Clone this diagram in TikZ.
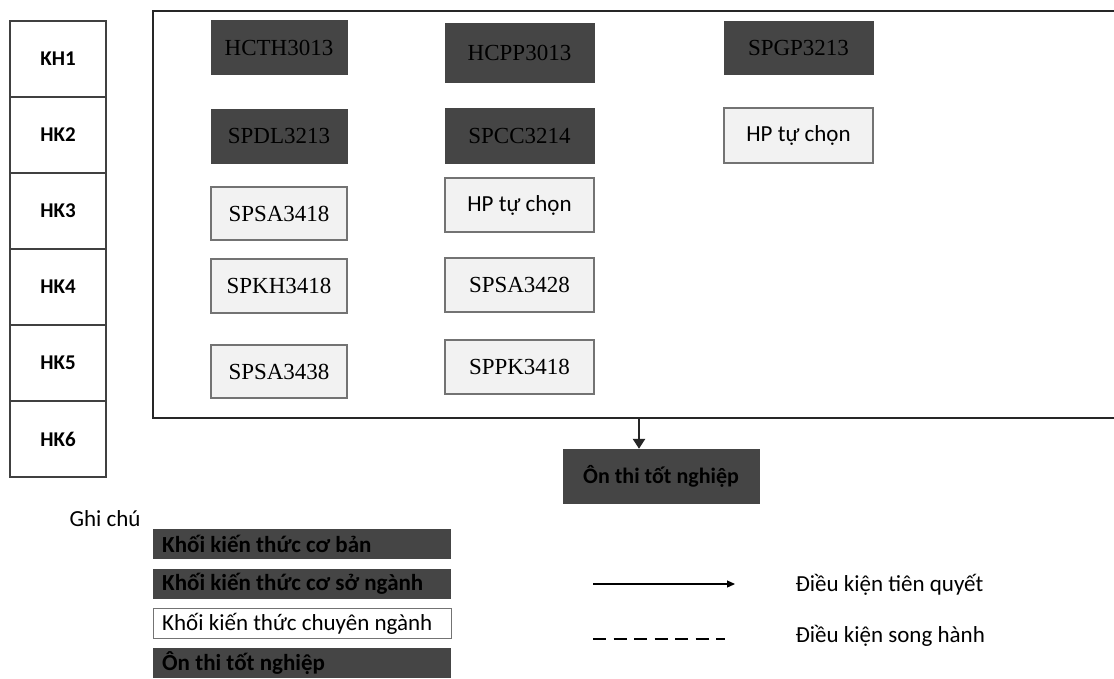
\documentclass[tikz,border=0pt]{standalone}
\usepackage{fontspec}
\setmainfont{Liberation Serif}
\newfontfamily\calfont{Carlito}
\usetikzlibrary{arrows.meta,positioning}

\definecolor{darkfill}{gray}{0.27}
\definecolor{lightfill}{gray}{0.95}
\definecolor{edgegray}{gray}{0.45}

\begin{document}
\begin{tikzpicture}[x=1pt,y=-1pt,node distance=76pt,
  semcell/.style={draw=black!75,line width=1.3pt,minimum width=96pt,minimum height=76pt,
                  font=\calfont\bfseries\fontsize{21}{25}\selectfont},
  course/.style={minimum width=136pt,minimum height=54pt,inner sep=0pt,
                 font=\fontsize{23}{27}\selectfont},
  basic/.style={course,fill=darkfill,draw=darkfill,text=black},
  major/.style={course,fill=lightfill,draw=edgegray,line width=1.2pt},
  wide/.style={minimum width=149pt},
  keybox/.style={minimum height=30pt,text width=280pt,align=flush left,inner xsep=9pt,inner ysep=0pt,
                 font=\calfont\fontsize{23}{27}\selectfont},
  darkkey/.style={keybox,fill=darkfill,font=\calfont\bfseries\fontsize{23}{27}\selectfont,text=black},
  legtext/.style={anchor=west,font=\calfont\fontsize{23}{27}\selectfont}]

\useasboundingbox (0,0) rectangle (1114,678);

% semesters
\node[semcell] (kh1) at (58,59) {KH1};
\node[semcell] (hk2) [below of=kh1] {HK2};
\node[semcell] (hk3) [below of=hk2] {HK3};
\node[semcell] (hk4) [below of=hk3] {HK4};
\node[semcell] (hk5) [below of=hk4] {HK5};
\node[semcell] (hk6) [below of=hk5] {HK6};

% frame
\node[draw=black!85,line width=2.5pt,minimum width=972pt,minimum height=407pt,inner sep=0pt]
  (frame) at (639,214.5) {};

% courses
\node[basic] (hcth) at (279,47.5) {HCTH3013};
\node[basic] (spdl) at (279,136) {SPDL3213};
\node[major,minimum height=53pt] (spsa1) at (279,213.5) {SPSA3418};
\node[major] (spkh) at (279,286) {SPKH3418};
\node[major,minimum height=53pt] (spsa3) at (279,371.5) {SPSA3438};

\node[basic,wide,minimum height=59pt] (hcpp) at (519.5,52.5) {HCPP3013};
\node[basic,wide,minimum height=55pt] (spcc) at (519.5,135.5) {SPCC3214};
\node[major,wide,font=\calfont\fontsize{23}{27}\selectfont] (tc2) at (519.5,205) {HP tự chọn};
\node[major,wide] (spsa2) at (519.5,285) {SPSA3428};
\node[major,wide] (sppk) at (519.5,367) {SPPK3418};

\node[basic,wide,minimum height=53pt] (spgp) at (798.5,47.5) {SPGP3213};
\node[major,wide,minimum height=55pt,font=\calfont\fontsize{23}{27}\selectfont] (tc3) at (798.5,135.5) {HP tự chọn};

% exam
\node[basic,minimum width=196pt,font=\calfont\bfseries\fontsize{22}{26}\selectfont] (exam) at (661,476) {Ôn thi tốt nghiệp};
\draw[-{Triangle[length=10pt,width=12pt]},line width=2.5pt,black!85]
  (frame.south) -- (frame.south |- exam.north);

% legend
\node[legtext] (note) at (66,519) {Ghi chú};
\node[darkkey,anchor=north west] (keybasic) at (153,529) {Khối kiến thức cơ bản};
\node[darkkey] (keycore) [below=9pt of keybasic] {Khối kiến thức cơ sở ngành};
\node[keybox,fill=white,draw=edgegray,line width=1.2pt] (keymajor) [below=9pt of keycore] {Khối kiến thức chuyên ngành};
\node[darkkey] (keyexam) [below=9pt of keymajor] {Ôn thi tốt nghiệp};

\coordinate (preA) at (593,584);
\coordinate (preB) at (735,584);
\coordinate (parA) at (593,639);
\coordinate (parB) at (725,639);
\draw[-{Triangle[length=8pt,width=7pt]},line width=1.2pt] (preA) -- (preB);
\draw[line width=2pt,dash pattern=on 13pt off 7.5pt] (parA) -- (parB);
\node[legtext] (pretext) at (792,585) {Điều kiện tiên quyết};
\node[legtext] (partext) at (792,636) {Điều kiện song hành};

\end{tikzpicture}
\end{document}
